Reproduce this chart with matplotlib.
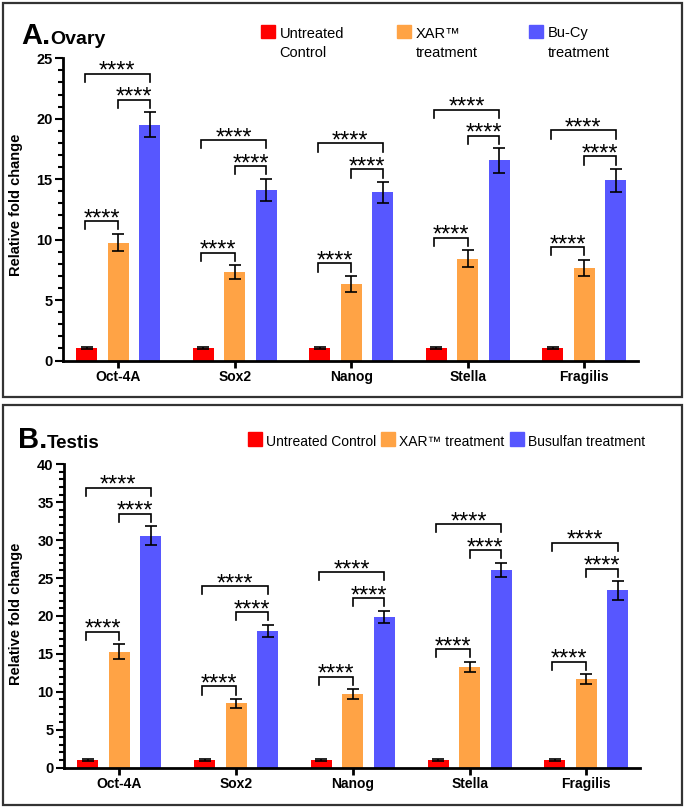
import numpy as np
import matplotlib.pyplot as plt
from matplotlib.patches import Rectangle
from matplotlib.ticker import MultipleLocator

plt.rcParams['font.family'] = ['Liberation Sans', 'DejaVu Sans']

W, H = 685, 808

genes = ['Oct-4A', 'Sox2', 'Nanog', 'Stella', 'Fragilis']

# panel A - ovary
ovary_ctrl = [1.0, 1.0, 1.0, 1.0, 1.0]
ovary_ctrl_err = [0.08, 0.08, 0.08, 0.08, 0.08]
ovary_xar = [9.75, 7.32, 6.35, 8.4, 7.68]
ovary_xar_err = [0.73, 0.56, 0.65, 0.7, 0.67]
ovary_bucy = [19.5, 14.1, 13.9, 16.55, 14.9]
ovary_bucy_err = [1.03, 0.93, 0.87, 1.0, 0.95]

# panel B - testis
testis_ctrl = [1.0, 1.0, 1.0, 1.0, 1.0]
testis_ctrl_err = [0.1, 0.1, 0.1, 0.1, 0.1]
testis_xar = [15.26, 8.45, 9.68, 13.28, 11.66]
testis_xar_err = [1.0, 0.6, 0.63, 0.66, 0.62]
testis_busulfan = [30.57, 18.04, 19.88, 26.05, 23.36]
testis_busulfan_err = [1.23, 0.8, 0.8, 0.95, 1.2]

RED = '#FF0000'
ORANGE = '#FFA345'
BLUE = '#5757FF'

fig = plt.figure(figsize=(W / 100, H / 100), dpi=100)


def px_box(x0, y0, x1, y1):
    # pixel box (top-left origin) -> figure fraction rect
    return [x0 / W, 1 - y1 / H, (x1 - x0) / W, (y1 - y0) / H]


def bracket(ax, x1, x2, y, ymax):
    leg = 0.0275 * ymax
    ax.plot([x1, x1, x2, x2], [y - leg, y, y, y - leg], color='black', lw=1.2,
            solid_joinstyle='miter', clip_on=False)
    ax.annotate('****', xy=((x1 + x2) / 2, y), xytext=(0, -3), textcoords='offset points',
                ha='center', va='baseline', fontsize=17, annotation_clip=False)


def draw_panel(ax, ctrl, ctrl_err, xar, xar_err, third, third_err, ymax):
    x = np.arange(len(genes))
    off = 0.27
    wd = 0.18
    ax.bar(x - off, ctrl, wd, color=RED, zorder=2)
    ax.bar(x, xar, wd, color=ORANGE, zorder=2)
    ax.bar(x + off, third, wd, color=BLUE, zorder=2)
    for xs, v, e in [(x - off, ctrl, ctrl_err), (x, xar, xar_err), (x + off, third, third_err)]:
        ax.errorbar(xs, v, yerr=e, fmt='none', ecolor='black', elinewidth=1.2,
                    capsize=4, capthick=1.2, zorder=3)
    gap = 0.042 * ymax
    for i in range(len(genes)):
        low = xar[i] + xar_err[i] + gap
        inner = third[i] + third_err[i] + gap
        outer = inner + 0.086 * ymax
        bracket(ax, i - off - 0.02, i, low, ymax)
        bracket(ax, i, i + off, inner, ymax)
        bracket(ax, i - off - 0.02, i + off, outer, ymax)

    ax.set_xlim(-0.475, 4.46)
    ax.set_ylim(0, ymax)
    ax.set_xticks(x)
    ax.set_xticklabels(genes, fontsize=10, fontweight='bold')
    ax.yaxis.set_major_locator(MultipleLocator(5))
    ax.yaxis.set_minor_locator(MultipleLocator(1))
    for lab in ax.get_yticklabels():
        lab.set_fontweight('bold')
        lab.set_fontsize(10.5)
    ax.spines['top'].set_visible(False)
    ax.spines['right'].set_visible(False)
    ax.spines['left'].set_linewidth(2)
    ax.spines['bottom'].set_linewidth(2)
    ax.tick_params(axis='y', which='major', length=6, width=1.5, pad=1.5)
    ax.tick_params(axis='y', which='minor', length=3.5, width=1.5)
    ax.tick_params(axis='x', which='major', length=5, width=2, pad=2)
    ax.set_ylabel('Relative fold change', fontsize=10.5, fontweight='bold')


axA = fig.add_axes(px_box(63, 58.3, 638, 360.5))
draw_panel(axA, ovary_ctrl, ovary_ctrl_err, ovary_xar, ovary_xar_err,
           ovary_bucy, ovary_bucy_err, 25)
axB = fig.add_axes(px_box(64, 464.3, 640, 767.5))
draw_panel(axB, testis_ctrl, testis_ctrl_err, testis_xar, testis_xar_err,
           testis_busulfan, testis_busulfan_err, 40)
axA.yaxis.set_label_coords(23 / W, 1 - 205 / H, transform=fig.transFigure)
axB.yaxis.set_label_coords(23 / W, 1 - 614 / H, transform=fig.transFigure)

# panel frames
for y0, y1 in [(3, 397), (405, 805)]:
    fig.add_artist(Rectangle((3 / W, 1 - y1 / H), 679 / W, (y1 - y0) / H, fill=False,
                             lw=1.6, ec='#333333', transform=fig.transFigure))

# titles
fig.text(21 / W, 1 - 43.7 / H, 'A.', fontsize=21, fontweight='bold', va='baseline')
fig.text(50 / W, 1 - 43.7 / H, 'Ovary', fontsize=14, fontweight='bold', va='baseline')
fig.text(18 / W, 1 - 448 / H, 'B.', fontsize=21, fontweight='bold', va='baseline')
fig.text(47 / W, 1 - 448 / H, 'Testis', fontsize=13.5, fontweight='bold', va='baseline')

# legends
legA = [(260.7, RED, 'Untreated\nControl'), (397, ORANGE, 'XAR\u2122\ntreatment'),
        (529, BLUE, 'Bu-Cy\ntreatment')]
for xs, c, lab in legA:
    fig.add_artist(Rectangle((xs / W, 1 - 37.5 / H), 14 / W, 12.5 / H, color=c,
                             transform=fig.transFigure))
    fig.text((xs + 19) / W, 1 - 26.5 / H, lab, fontsize=10.5, va='top', linespacing=1.5)

legB = [(247.6, RED, 'Untreated Control'), (381, ORANGE, 'XAR\u2122 treatment'),
        (510, BLUE, 'Busulfan treatment')]
for xs, c, lab in legB:
    fig.add_artist(Rectangle((xs / W, 1 - 446 / H), 14 / W, 14 / H, color=c,
                             transform=fig.transFigure))
    fig.text((xs + 18) / W, 1 - 446 / H, lab, fontsize=10, va='baseline')

fig.savefig('out.png', dpi=100)
plt.close('all')
